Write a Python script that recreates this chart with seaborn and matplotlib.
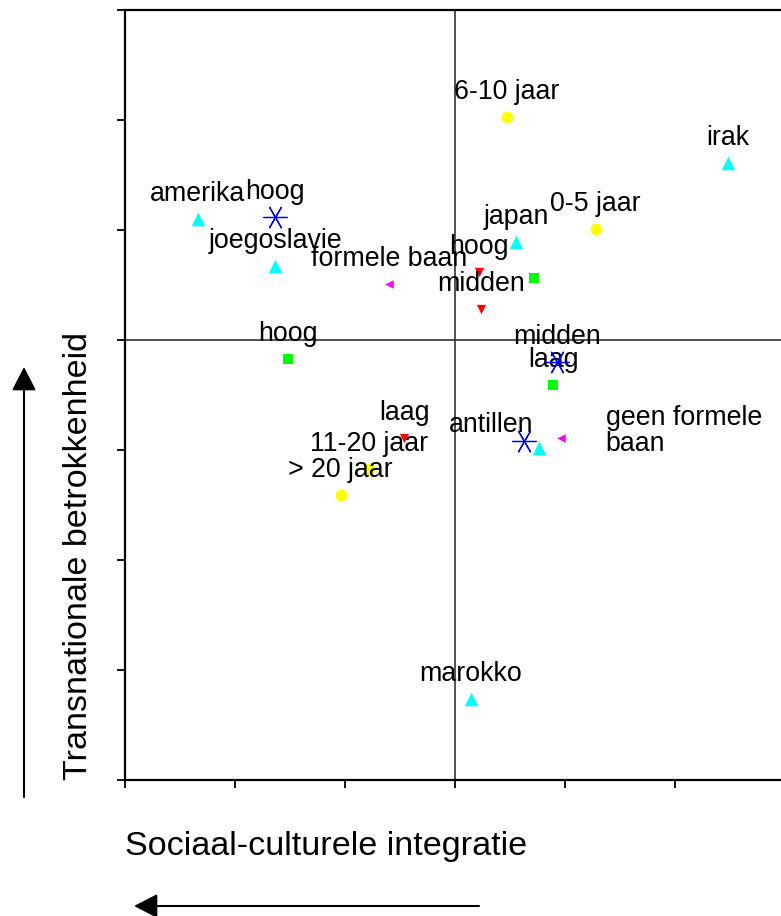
import numpy as np
import pandas as pd
import matplotlib
matplotlib.use('Agg')
import matplotlib.pyplot as plt
import seaborn as sns

# Coordinaten uit de figuur (eenheid = 1 tick-afstand)
land_naam = ['amerika', 'joegoslavie', 'irak', 'japan', 'antillen', 'marokko']
land_x = [-2.339, -1.636, 2.479, 0.555, 0.764, 0.145]
land_y = [1.097, 0.675, 1.606, 0.888, -0.985, -3.266]

duur_naam = ['6-10 jaar', '0-5 jaar', '11-20 jaar', '> 20 jaar']
duur_x = [0.470, 1.279, -0.779, -1.039]
duur_y = [2.025, 1.006, -1.175, -1.409]

opl_naam = ['hoog', 'midden', '']
opl_x = [-1.636, 0.930, 0.625]
opl_y = [1.121, -0.197, -0.915]

taal_naam = ['hoog', 'midden', 'laag']
taal_x = [0.215, 0.236, -0.461]
taal_y = [0.621, 0.279, -0.888]

inkomen_naam = ['hoog', '', 'laag']
inkomen_x = [-1.521, 0.721, 0.894]
inkomen_y = [-0.170, 0.561, -0.409]

baan_naam = ['formele baan', 'geen formele\nbaan']
baan_x = [-0.600, 0.961]
baan_y = [0.509, -0.888]

groepen = {
    'land': (land_naam, land_x, land_y),
    'duur': (duur_naam, duur_x, duur_y),
    'opleiding': (opl_naam, opl_x, opl_y),
    'taal': (taal_naam, taal_x, taal_y),
    'inkomen': (inkomen_naam, inkomen_x, inkomen_y),
    'baan': (baan_naam, baan_x, baan_y),
}

stijl = {
    'land': dict(marker='^', color='#00FFFF', s=95),
    'duur': dict(marker='o', color='#FFFF00', s=72),
    'opleiding': dict(marker=(6, 2, 90), color='#0000FF', s=290),
    'taal': dict(marker='v', color='#FF0000', s=45),
    'inkomen': dict(marker='s', color='#00FF00', s=45),
    'baan': dict(marker='<', color='#FF00FF', s=38),
}

# afwijkende labelposities (pixels)
label_offset = {'antillen': (-48, 16, 'center'), 'geen formele\nbaan': (45, -13, 'left')}

rows = []
for g, (naam, xs, ys) in groepen.items():
    for n, x, y in zip(naam, xs, ys):
        rows.append({'groep': g, 'label': n, 'x': x, 'y': y})
df = pd.DataFrame(rows)

sns.set_style('white')
plt.rcParams['font.family'] = ['Liberation Sans', 'DejaVu Sans']
plt.rcParams['text.color'] = 'black'

fig = plt.figure(figsize=(7.81, 9.16), dpi=100)
ax = fig.add_axes([125 / 781, 1 - 780 / 916, 660 / 781, 770 / 916])

ax.axvline(0, color='#333333', lw=1.2, zorder=0)
ax.axhline(0, color='#333333', lw=1.2, zorder=0)

for g, sub in df.groupby('groep', sort=False):
    st = stijl[g]
    if g == 'opleiding':
        sns.scatterplot(data=sub, x='x', y='y', ax=ax, marker=st['marker'],
                        color=st['color'], s=st['s'], linewidth=0.9, zorder=3)
    else:
        sns.scatterplot(data=sub, x='x', y='y', ax=ax, marker=st['marker'],
                        color=st['color'], s=st['s'], linewidth=0, zorder=2)

for _, r in df.iterrows():
    if not r['label']:
        continue
    dx, dy, ha = label_offset.get(r['label'], (0, 18, 'center'))
    ax.annotate(r['label'], (r['x'], r['y']), xytext=(dx, dy),
                textcoords='offset pixels', ha=ha, va='baseline',
                fontsize=19.3, linespacing=1.0, color='black', zorder=2.5)

ax.set_xlim(-3, 3)
ax.set_ylim(-4, 3)
ax.set_xticks(np.arange(-3, 4))
ax.set_yticks(np.arange(-4, 4))
ax.set_xticklabels([])
ax.set_yticklabels([])
ax.tick_params(direction='out', length=6, width=1.3, left=True, bottom=True,
               color='black')
for side in ['left', 'bottom', 'top']:
    ax.spines[side].set_visible(True)
    ax.spines[side].set_color('black')
    ax.spines[side].set_linewidth(1.6)
ax.spines['right'].set_visible(False)
ax.set_xlabel('')
ax.set_ylabel('')

fig.text(79 / 781, 1 - 556 / 916, 'Transnationale betrokkenheid', rotation=90,
         ha='center', va='center', fontsize=24.6, color='black')
fig.text(125 / 781, 1 - 855 / 916, 'Sociaal-culturele integratie',
         ha='left', va='baseline', fontsize=24.6, color='black')

pijl = dict(arrowstyle='-|>,head_length=0.72,head_width=0.37', mutation_scale=20,
            lw=1.5, color='black', shrinkA=0, shrinkB=0)
ax.annotate('', xy=(24 / 781, 1 - 367 / 916), xytext=(24 / 781, 1 - 797 / 916),
            xycoords='figure fraction', textcoords='figure fraction',
            arrowprops=pijl, annotation_clip=False)
ax.annotate('', xy=(134 / 781, 1 - 906 / 916), xytext=(479 / 781, 1 - 906 / 916),
            xycoords='figure fraction', textcoords='figure fraction',
            arrowprops=pijl, annotation_clip=False)

fig.savefig('out.png', dpi=100)
